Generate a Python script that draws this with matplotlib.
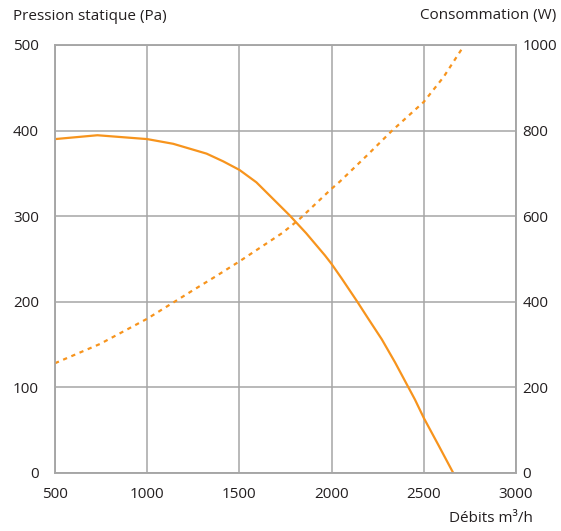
import matplotlib
matplotlib.use('Agg')
import matplotlib.pyplot as plt

plt.rcParams['font.family'] = ['Open Sans', 'DejaVu Sans']

# Pressure curve (left axis, Pa)
debit_p = [500, 730, 1000, 1141, 1322, 1412, 1500, 1592, 1683, 1774, 1862,
           1964, 2000, 2055, 2136, 2199, 2272, 2344, 2416, 2452, 2500, 2580, 2659]
pression = [390, 394.5, 390, 384.5, 373, 364, 354, 339.5, 320, 300.5, 280,
            254, 244, 227, 201, 180, 156, 129, 100, 85.5, 64, 32, 0]

# Power curve (right axis, W)
debit_w = [500, 744, 1000, 1250, 1375, 1500, 1731, 1821, 2000, 2043, 2190,
           2326, 2500, 2607, 2717]
conso = [256, 301, 360, 427, 460, 494, 560, 591, 664, 680, 741,
         799, 867, 925, 998]

x_ticks = [500, 1000, 1500, 2000, 2500, 3000]
y_ticks = [0, 100, 200, 300, 400, 500]
y2_ticks = [0, 200, 400, 600, 800, 1000]

orange = '#F7941D'
grey = '#A6A6A6'
txt = '#231F20'

fig = plt.figure(figsize=(5.61, 5.31), dpi=100)
ax = fig.add_axes([55 / 561, 1 - 472.7 / 531, 461 / 561, 427.7 / 531])
ax2 = ax.twinx()

ax.plot(debit_p, pression, color=orange, lw=1.6)
ax2.plot(debit_w, conso, color=orange, lw=1.6, dashes=(1.9, 2.1))

ax.set_xlim(500, 3000)
ax.set_ylim(0, 500)
ax2.set_ylim(0, 1000)
ax.set_xticks(x_ticks)
ax.set_yticks(y_ticks)
ax2.set_yticks(y2_ticks)

ax.grid(True, color=grey, lw=1.1)
ax.set_axisbelow(True)
for a in (ax, ax2):
    for s in a.spines.values():
        s.set_color(grey)
        s.set_linewidth(1.1)

ax.tick_params(axis='both', length=0, labelsize=11, labelcolor=txt)
ax.tick_params(axis='y', pad=11.5)
ax.tick_params(axis='x', pad=10.5)
ax2.tick_params(axis='y', length=0, labelsize=11, labelcolor=txt, pad=4.5)

fig.text(13 / 561, 1 - 16 / 531, 'Pression statique (Pa)', fontsize=11,
         color=txt, ha='left', va='center')
fig.text(556 / 561, 1 - 16 / 531, 'Consommation (W)', fontsize=11,
         color=txt, ha='right', va='center')
fig.text(533 / 561, 1 - 518 / 531, 'Débits m³/h', fontsize=11,
         color=txt, ha='right', va='center')

fig.savefig('out.png', dpi=100)
